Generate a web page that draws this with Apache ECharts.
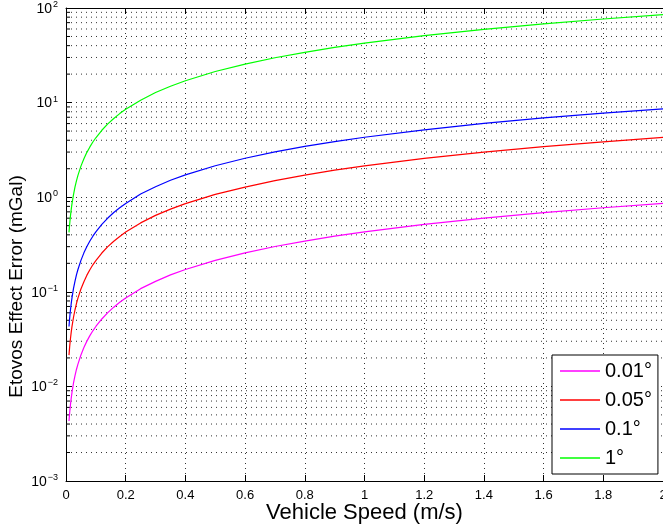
<!DOCTYPE html>
<html>
<head>
<meta charset="utf-8">
<script src="https://cdn.jsdelivr.net/npm/echarts@6/dist/echarts.min.js"></script>
<style>html,body{margin:0;padding:0;background:#fff;}#c{width:663px;height:528px;}</style>
</head>
<body>
<div id="c"></div>
<script>
// Vehicle speed (m/s)
const speeds = [0.01,0.0125,0.015,0.0175,0.02,0.025,0.03,0.035,0.04,0.05,0.06,0.07,0.08,0.09,0.1,0.12,0.14,0.16,0.18,0.2,0.25,0.3,0.35,0.4,0.5,0.6,0.7,0.8,0.9,1.0,1.2,1.4,1.6,1.8,2.0];
// Eotvos effect error (mGal) for each heading error
const err001 = [0.0043,0.00538,0.00645,0.00753,0.0086,0.0108,0.0129,0.0151,0.0172,0.0215,0.0258,0.0301,0.0344,0.0387,0.043,0.0516,0.0602,0.0688,0.0774,0.086,0.108,0.129,0.151,0.172,0.215,0.258,0.301,0.344,0.387,0.43,0.516,0.602,0.688,0.774,0.86];
const err005 = [0.0214,0.0268,0.0321,0.0375,0.0428,0.0535,0.0642,0.0749,0.0856,0.107,0.128,0.150,0.171,0.193,0.214,0.257,0.300,0.342,0.385,0.428,0.535,0.642,0.749,0.856,1.07,1.28,1.50,1.71,1.93,2.14,2.57,3.00,3.42,3.85,4.28];
const err01  = [0.043,0.0538,0.0645,0.0753,0.086,0.108,0.129,0.151,0.172,0.215,0.258,0.301,0.344,0.387,0.43,0.516,0.602,0.688,0.774,0.86,1.08,1.29,1.51,1.72,2.15,2.58,3.01,3.44,3.87,4.3,5.16,6.02,6.88,7.74,8.6];
const err1   = [0.425,0.531,0.638,0.744,0.85,1.06,1.28,1.49,1.7,2.13,2.55,2.98,3.4,3.83,4.25,5.1,5.95,6.8,7.65,8.5,10.6,12.8,14.9,17,21.3,25.5,29.8,34,38.3,42.5,51,59.5,68,76.5,85];
const seriesNames = ['0.01°','0.05°','0.1°','1°'];
const seriesColors = ['#ff00ff','#ff0000','#0000ff','#00ff00'];
const seriesValues = [err001, err005, err01, err1];
// log-axis minor grid positions (2..9 in each decade)
const yDecades = [-3,-2,-1,0,1];
const yMinorMult = [2,3,4,5,6,7,8,9];
const yMinor = [];
yDecades.forEach(d => yMinorMult.forEach(m => yMinor.push(m * Math.pow(10, d))));

const FONT = 'Liberation Sans';
const chart = echarts.init(document.getElementById('c'));
const lineSeries = seriesNames.map((n, i) => ({
  name: n, type: 'line', symbol: 'none', showSymbol: false,
  data: speeds.map((s, j) => [s, seriesValues[i][j]]),
  lineStyle: {color: seriesColors[i], width: 1.2},
  itemStyle: {color: seriesColors[i]},
  z: 5, animation: false
}));
const minorSeries = {
  type: 'custom', silent: true, animation: false, z: 1,
  data: yMinor.map(v => [0, v]),
  renderItem: function (params, api) {
    const v = api.value(1);
    const p0 = api.coord([0, v]);
    const p1 = api.coord([2, v]);
    return {type: 'group', children: [
      {type: 'line', shape: {x1: p0[0], y1: p0[1], x2: p1[0], y2: p1[1]},
       style: {stroke: '#333', lineWidth: 1, lineDash: [1, 4]}},
      {type: 'line', shape: {x1: p0[0], y1: p0[1], x2: p0[0] + 4, y2: p0[1]},
       style: {stroke: '#000', lineWidth: 1}}
    ]};
  }
};
const dotted = {color: '#333', width: 1, type: [1, 4]};
chart.setOption({
  animation: false,
  backgroundColor: '#fff',
  textStyle: {fontFamily: FONT},
  grid: {left: 66, top: 8, right: 0, bottom: 47, containLabel: false, outerBoundsMode: 'none'},
  legend: {
    data: seriesNames.map(n => ({name: n, icon: 'rect'})),
    orient: 'vertical', left: 552, top: 355,
    backgroundColor: '#fff', borderColor: '#000', borderWidth: 1,
    padding: [6, 6, 6, 8], itemGap: 9, itemWidth: 40, itemHeight: 1.5,
    textStyle: {fontFamily: FONT, fontSize: 20, lineHeight: 20, color: '#000'}
  },
  xAxis: [{
    type: 'value', min: 0, max: 2, interval: 0.2,
    name: 'Vehicle Speed (m/s)', nameLocation: 'middle', nameGap: 21, nameMoveOverlap: false,
    nameTextStyle: {fontFamily: FONT, fontSize: 22, color: '#000'},
    axisLine: {lineStyle: {color: '#000', width: 1}},
    axisTick: {inside: true, length: 6, lineStyle: {color: '#000'}},
    axisLabel: {fontFamily: FONT, fontSize: 13, color: '#000', margin: 8},
    splitLine: {show: true, lineStyle: dotted}
  }, {
    type: 'value', min: 0, max: 2, interval: 0.2, position: 'top',
    axisLine: {lineStyle: {color: '#000', width: 1}},
    axisTick: {inside: true, length: 6, lineStyle: {color: '#000'}},
    axisLabel: {show: false}, splitLine: {show: false}
  }],
  yAxis: [{
    type: 'log', logBase: 10, min: 0.001, max: 100,
    name: 'Etovos Effect Error (mGal)', nameLocation: 'middle', nameGap: 40, nameMoveOverlap: false,
    nameTextStyle: {fontFamily: FONT, fontSize: 19, color: '#000', padding: [0, 84, 0, 0]},
    axisLine: {show: true, lineStyle: {color: '#000', width: 1}},
    axisTick: {inside: true, length: 6, lineStyle: {color: '#000'}},
    axisLabel: {
      margin: 8, color: '#000',
      formatter: function (v) {
        const e = Math.round(Math.log10(v));
        return '{b|10}{s|' + (e < 0 ? '\u2212' + (-e) : e) + '}';
      },
      rich: {
        b: {fontFamily: FONT, fontSize: 14, color: '#000', verticalAlign: 'bottom', lineHeight: 16},
        s: {fontFamily: FONT, fontSize: 9, color: '#000', verticalAlign: 'top', lineHeight: 16, padding: [0, 0, 8, 1]}
      }
    },
    splitLine: {show: true, lineStyle: dotted}
  }],
  series: [minorSeries].concat(lineSeries)
});
</script>
</body>
</html>
